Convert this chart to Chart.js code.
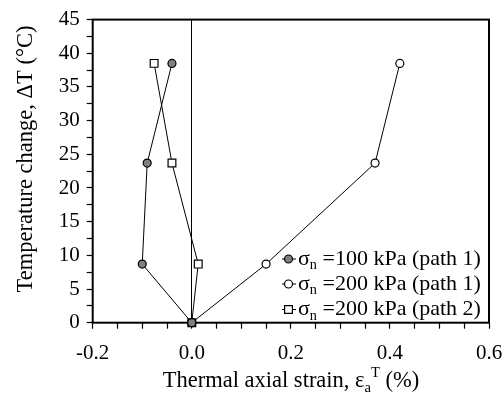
<!DOCTYPE html>
<html>
<head>
<meta charset="utf-8">
<script src="https://cdn.jsdelivr.net/npm/chart.js@4"></script>
<style>
  html, body { margin: 0; padding: 0; background: #fff; }
  #wrap { width: 504px; height: 395px; }
</style>
</head>
<body>
<div id="wrap"><canvas id="strainChart" width="504" height="395"></canvas></div>
<script>
// temperature steps (same for every test) and thermal axial strain (%)
const temps = [0, 8.7, 23.7, 38.5];
const strain100p1 = [0, -0.10, -0.09, -0.04];
const strain200p1 = [0, 0.15, 0.37, 0.42];
const strain200p2 = [0, 0.013, -0.04, -0.076];
const seriesLabels = ["=100 kPa (path 1)", "=200 kPa (path 1)", "=200 kPa (path 2)"];
const xTickValues = [-0.2, 0, 0.2, 0.4, 0.6];
const yTickValues = [0, 5, 10, 15, 20, 25, 30, 35, 40, 45];

const FONT = "'Liberation Serif', 'Times New Roman', serif";

const toPoints = (xs) => xs.map((x, i) => ({ x: x, y: temps[i] }));
const isMajor = (v, list) => list.some(t => Math.abs(t - v) < 1e-6);

function makeSet(label, xs, style, fill, radius) {
  return {
    label: label,
    data: toPoints(xs),
    showLine: true,
    borderColor: "#000",
    borderWidth: 1,
    pointStyle: style,
    pointRadius: radius,
    pointHoverRadius: radius,
    pointBackgroundColor: fill,
    pointBorderColor: "#000",
    pointBorderWidth: 1.2,
    tension: 0,
    clip: false
  };
}

// frame around the plot
const framePlugin = {
  id: "frame",
  beforeDatasetsDraw(chart) {
    const a = chart.chartArea, c = chart.ctx;
    c.save();
    c.strokeStyle = "#000";
    c.lineWidth = 2;
    c.strokeRect(a.left, a.top, a.right - a.left, a.bottom - a.top);
    c.restore();
  }
};

// text with sub/superscripts: parts = [[text, "n"|"sub"|"sup"], ...]
function drawParts(c, parts, x, y, size) {
  parts.forEach(([t, kind]) => {
    let s = size, dy = 0;
    if (kind === "sub") { s = size * 0.65; dy = size * 0.3; }
    if (kind === "sup") { s = size * 0.65; dy = -size * 0.36; }
    c.font = s + "px " + FONT;
    c.fillText(t, x, y + dy);
    x += c.measureText(t).width;
  });
}
function partsWidth(c, parts, size) {
  let w = 0;
  parts.forEach(([t, kind]) => {
    const s = kind === "n" ? size : size * 0.65;
    c.font = s + "px " + FONT;
    w += c.measureText(t).width;
  });
  return w;
}

const textPlugin = {
  id: "texts",
  afterDraw(chart) {
    const c = chart.ctx, a = chart.chartArea;
    c.save();
    c.fillStyle = "#000";
    c.textBaseline = "middle";
    c.textAlign = "left";

    // x title
    const xt = [["Thermal axial strain, \u03b5", "n"], ["a", "sub"], ["T", "sup"], [" (%)", "n"]];
    const wx = partsWidth(c, xt, 22.5);
    drawParts(c, xt, 291 - wx / 2, 381, 22.5);

    // y title
    c.save();
    c.translate(26, 159);
    c.rotate(-Math.PI / 2);
    c.font = "22.5px " + FONT;
    c.textAlign = "center";
    c.fillText("Temperature change, \u0394T (\u00b0C)", 0, 0);
    c.restore();

    // legend
    const rowY = [259, 284, 309.5];
    chart.data.datasets.forEach((ds, i) => {
      const y = rowY[i], mx = 288.5;
      c.strokeStyle = "#000";
      c.lineWidth = 1;
      c.beginPath();
      c.moveTo(282, y); c.lineTo(296, y);
      c.stroke();
      c.fillStyle = ds.pointBackgroundColor;
      c.lineWidth = 1.2;
      Chart.helpers.drawPoint(c, { pointStyle: ds.pointStyle, radius: ds.pointRadius, borderWidth: 1.2 }, mx, y);
      c.fillStyle = "#000";
      drawParts(c, [["\u03c3", "n"], ["n", "sub"], [" " + seriesLabels[i], "n"]], 298, y, 22);
    });
    c.restore();
  }
};

new Chart(document.getElementById("strainChart"), {
  type: "scatter",
  data: {
    datasets: [
      makeSet("100 kPa path 1", strain100p1, "circle", "#808080", 4),
      makeSet("200 kPa path 1", strain200p1, "circle", "#fff", 4),
      makeSet("200 kPa path 2", strain200p2, "rect", "#fff", 5.5)
    ]
  },
  options: {
    responsive: false,
    devicePixelRatio: 1,
    animation: false,
    layout: { padding: { left: 0, top: 19, right: 0, bottom: 0 } },
    plugins: { legend: { display: false }, tooltip: { enabled: false } },
    scales: {
      x: {
        type: "linear",
        min: -0.2,
        max: 0.6,
        afterFit: (s) => { s.height = 72.3; s.paddingRight = 15; s.paddingLeft = 0; },
        border: { display: false },
        grid: {
          drawOnChartArea: true,
          color: (ctx) => (ctx.tick && Math.abs(ctx.tick.value) < 1e-9 ? "#000" : "rgba(0,0,0,0)"),
          lineWidth: 1,
          tickColor: "#000",
          tickLength: 6,
          tickWidth: 1.2
        },
        ticks: {
          stepSize: 0.05,
          autoSkip: false,
          maxRotation: 0,
          padding: 12,
          color: "#000",
          font: { family: FONT, size: 21 },
          callback: (v) => (isMajor(v, xTickValues) ? v.toFixed(1) : "")
        }
      },
      y: {
        type: "linear",
        min: 0,
        max: 45,
        afterFit: (s) => { s.width = 92.7; },
        border: { display: false },
        grid: {
          drawOnChartArea: false,
          tickColor: "#000",
          tickLength: 6,
          tickWidth: 1.2
        },
        ticks: {
          stepSize: 2.5,
          autoSkip: false,
          padding: 7,
          color: "#000",
          font: { family: FONT, size: 21 },
          callback: (v) => (isMajor(v, yTickValues) ? String(v) : "")
        }
      }
    }
  },
  plugins: [framePlugin, textPlugin]
});
</script>
</body>
</html>
